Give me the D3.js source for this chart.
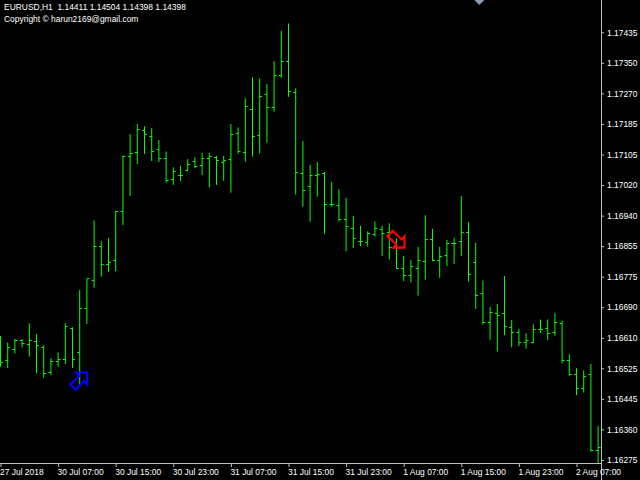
<!DOCTYPE html>
<html><head><meta charset="utf-8">
<script src="https://cdn.jsdelivr.net/npm/d3@7"></script>
<style>html,body{margin:0;padding:0;background:#000;overflow:hidden}svg{display:block}text{font-family:"Liberation Sans",sans-serif;fill:#fff;font-size:8.45px}</style>
</head><body><svg id="c" width="640" height="480"></svg>
<script>
const highs=[1.16611,1.16594,1.16603,1.16603,1.16646,1.16617,1.16586,1.16551,1.16567,1.16646,1.16635,1.16736,1.16766,1.16925,1.16868,1.16877,1.16950,1.17101,1.17159,1.17186,1.17180,1.17175,1.17143,1.17112,1.17069,1.17073,1.17091,1.17096,1.17108,1.17108,1.17100,1.17100,1.17186,1.17177,1.17256,1.17313,1.17310,1.17295,1.17357,1.17439,1.17459,1.17283,1.17140,1.17075,1.17083,1.17056,1.17029,1.17009,1.16986,1.16937,1.16910,1.16895,1.16922,1.16910,1.16917,1.16876,1.16828,1.16818,1.16853,1.16939,1.16902,1.16853,1.16872,1.16877,1.16991,1.16921,1.16864,1.16762,1.16690,1.16698,1.16774,1.16655,1.16630,1.16619,1.16643,1.16656,1.16656,1.16673,1.16653,1.16562,1.16524,1.16518,1.16535,1.16367];
const lows=[1.16528,1.16525,1.16564,1.16580,1.16555,1.16510,1.16498,1.16506,1.16528,1.16535,1.16525,1.16476,1.16644,1.16742,1.16772,1.16785,1.16787,1.16912,1.16991,1.17078,1.17105,1.17086,1.17083,1.17027,1.17021,1.17031,1.17058,1.17067,1.17048,1.17014,1.17021,1.17032,1.17000,1.17106,1.17084,1.17098,1.17106,1.17136,1.17220,1.17311,1.17260,1.16995,1.16962,1.16921,1.16989,1.16888,1.16962,1.16922,1.16841,1.16850,1.16855,1.16854,1.16881,1.16828,1.16819,1.16794,1.16760,1.16757,1.16721,1.16764,1.16814,1.16769,1.16801,1.16807,1.16828,1.16759,1.16685,1.16642,1.16601,1.16569,1.16614,1.16581,1.16584,1.16577,1.16593,1.16620,1.16600,1.16612,1.16537,1.16504,1.16451,1.16458,1.16298,1.16266];
const opens=[1.16546,1.16545,1.16575,1.16599,1.16587,1.16597,1.16581,1.16512,1.16542,1.16548,1.16633,1.16566,1.16686,1.16761,1.16855,1.16806,1.16817,1.16950,1.17099,1.17110,1.17169,1.17153,1.17118,1.17094,1.17035,1.17047,1.17061,1.17085,1.17074,1.17092,1.17095,1.17082,1.17091,1.17161,1.17110,1.17226,1.17156,1.17267,1.17231,1.17319,1.17356,1.17272,1.17053,1.17017,1.17047,1.17053,1.16969,1.16966,1.16926,1.16903,1.16867,1.16865,1.16887,1.16900,1.16893,1.16858,1.16795,1.16776,1.16795,1.16813,1.16872,1.16816,1.16829,1.16863,1.16867,1.16893,1.16811,1.16727,1.16647,1.16673,1.16673,1.16635,1.16620,1.16593,1.16595,1.16629,1.16632,1.16620,1.16646,1.16544,1.16506,1.16470,1.16506,1.16300];
const closes=[1.16540,1.16581,1.16600,1.16590,1.16600,1.16586,1.16510,1.16543,1.16548,1.16638,1.16548,1.16686,1.16766,1.16855,1.16806,1.16811,1.16950,1.17097,1.17107,1.17172,1.17158,1.17112,1.17094,1.17033,1.17058,1.17047,1.17077,1.17070,1.17092,1.17097,1.17088,1.17088,1.17158,1.17112,1.17233,1.17153,1.17260,1.17231,1.17317,1.17356,1.17275,1.17055,1.17006,1.17047,1.17050,1.16969,1.16969,1.16926,1.16909,1.16876,1.16867,1.16890,1.16902,1.16890,1.16850,1.16795,1.16776,1.16800,1.16817,1.16872,1.16816,1.16827,1.16863,1.16863,1.16893,1.16779,1.16722,1.16647,1.16675,1.16667,1.16638,1.16620,1.16593,1.16598,1.16629,1.16629,1.16619,1.16649,1.16545,1.16506,1.16470,1.16502,1.16302,1.16310];
const priceLabels=["1.17435","1.17350","1.17270","1.17185","1.17105","1.17020","1.16940","1.16855","1.16775","1.16690","1.16610","1.16525","1.16445","1.16360","1.16275"];
const timeTickBars=[0,8,16,24,32,40,48,56,64,72,80];
const timeLabels=["27 Jul 2018","30 Jul 07:00","30 Jul 15:00","30 Jul 23:00","31 Jul 07:00","31 Jul 15:00","31 Jul 23:00","1 Aug 07:00","1 Aug 15:00","1 Aug 23:00","2 Aug 07:00"];
const headerLines=["EURUSD,H1  1.14411 1.14504 1.14398 1.14398","Copyright © harun2169@gmail.com"];
const buySignal={bar:11,price:1.16476};
const sellSignal={bar:55,price:1.16876};
const shiftMarkerBar=66.5;

const svg=d3.select("#c");
svg.append("rect").attr("width",640).attr("height",480).attr("fill","#000");
const x=d3.scaleLinear().domain([0,highs.length-1]).range([0.5,598.1]);
const y=d3.scaleLinear().domain([1.16275,1.17435]).range([460,32.3]);
const snap=v=>Math.floor(v)+0.5;
const yAxisScale=d3.scalePoint().domain(priceLabels).range([32.3,460]);
const green="#00ff00";
svg.append("clipPath").attr("id","plot").append("rect").attr("width",601).attr("height",463);
const plot=svg.append("g").attr("clip-path","url(#plot)");
const bars=plot.selectAll("g.bar").data(highs.map((h,i)=>i)).join("g").attr("class","bar").attr("stroke",green).attr("stroke-width",1);
bars.append("line").attr("x1",i=>x(i)).attr("x2",i=>x(i)).attr("y1",i=>y(highs[i])).attr("y2",i=>y(lows[i]));
bars.append("line").attr("x1",i=>x(i)-2.4).attr("x2",i=>x(i)).attr("y1",i=>snap(y(opens[i]))).attr("y2",i=>snap(y(opens[i])));
bars.append("line").attr("x1",i=>x(i)).attr("x2",i=>x(i)+2.4).attr("y1",i=>snap(y(closes[i]))).attr("y2",i=>snap(y(closes[i])));

const axisColor="#c0c0c0";
svg.append("line").attr("x1",601.5).attr("x2",601.5).attr("y1",0).attr("y2",480).attr("stroke",axisColor);
svg.append("line").attr("x1",0).attr("x2",601.5).attr("y1",463.5).attr("y2",463.5).attr("stroke",axisColor);
const yAxis=d3.axisRight(yAxisScale).tickSize(2).tickPadding(3);
const gy=svg.append("g").attr("transform","translate(602,0)").call(yAxis);
gy.select(".domain").remove();
gy.selectAll("line").attr("stroke",axisColor);
gy.selectAll("text").style("font-size","8.45px").style("font-family","'Liberation Sans'").attr("fill","#fff");
const xAxis=d3.axisBottom(x).tickValues(timeTickBars).tickSize(3).tickPadding(2).tickFormat((d,i)=>timeLabels[i]);
const gx=svg.append("g").attr("transform","translate(0,464)").call(xAxis);
gx.select(".domain").remove();
gx.selectAll("line").attr("stroke",axisColor);
gx.selectAll("text").attr("text-anchor","start").attr("dx",-1).style("font-size","8.45px").style("font-family","'Liberation Sans'").attr("fill","#fff");

svg.selectAll("text.hdr").data(headerLines).join("text").attr("class","hdr").attr("x",4).attr("y",(d,i)=>10+i*12).style("white-space","pre").text(d=>d);

const buyShape=[[7.3,-13.3],[-3.7,-13.3],[-0.4,-10],[-9.4,-1.3],[-4,3.7],[4.3,-5],[7.3,-1.7]];
const sellShape=[[-9,-8.3],[-3.7,-13.7],[5,-5],[8,-8],[8,3.3],[-3,3.3],[0,0.3]];
const line=d3.line().curve(d3.curveLinearClosed);
svg.append("path").attr("d",line(buyShape)).attr("transform",`translate(${x(buySignal.bar)},${y(buySignal.price)})`).attr("fill","none").attr("stroke","#0000ff").attr("stroke-width",2.2);
svg.append("path").attr("d",line(sellShape)).attr("transform",`translate(${x(sellSignal.bar)},${y(sellSignal.price)+6})`).attr("fill","none").attr("stroke","#ff0000").attr("stroke-width",2.2);
svg.append("path").attr("d",d3.line()([[-5,0],[5,0],[0,5]])+"Z").attr("transform",`translate(${x(shiftMarkerBar)},0)`).attr("fill","#8a9fb5");
</script></body></html>
